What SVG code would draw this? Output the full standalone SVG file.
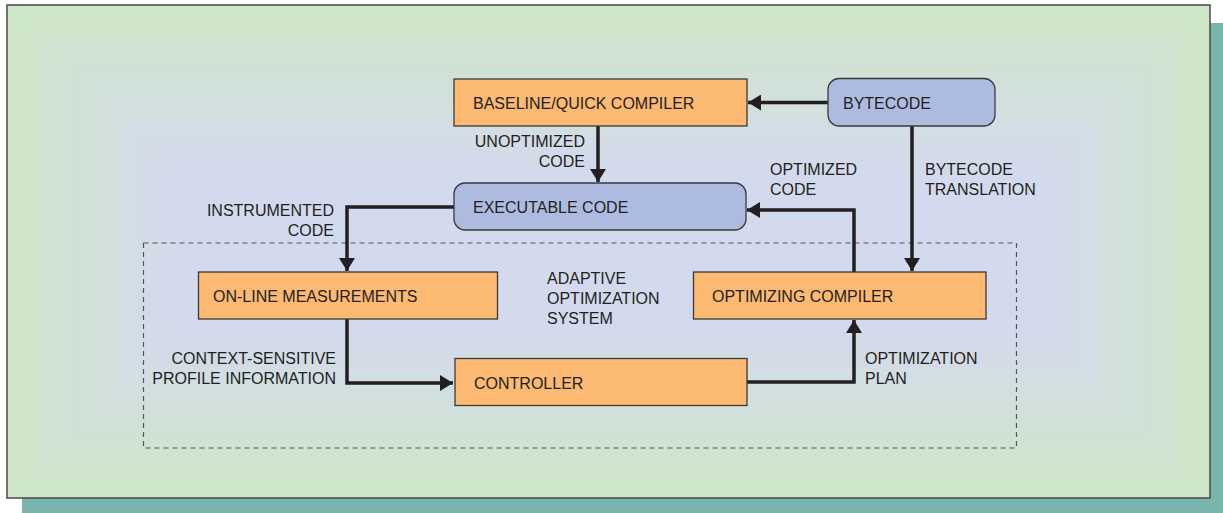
<svg xmlns="http://www.w3.org/2000/svg" width="1223" height="513" viewBox="0 0 1223 513">
  <defs>
    <style>
      text { font-family: "Liberation Sans", Arial, sans-serif; font-size: 16px; fill: #231f20; }
      .orange { fill: #fbb971; stroke: #3a3a3a; stroke-width: 1.3; }
      .blue { fill: #aebbe0; stroke: #3a3a3a; stroke-width: 1.3; }
      .conn { fill: none; stroke: #231f20; stroke-width: 3.5; stroke-linejoin: miter; }
      .r { text-anchor: end; }
    </style>
    <marker id="arrow" markerUnits="userSpaceOnUse" markerWidth="14" markerHeight="16" viewBox="0 0 14 16" refX="13" refY="8" orient="auto">
      <path d="M0,0 L13,8 L0,16 Z" fill="#231f20"/>
    </marker>
  </defs>

  <!-- shadow -->
  <rect x="22" y="23" width="1201" height="490" fill="#79b5aa"/>
  <!-- panel with stepped gradient -->
  <g id="panel">
    <rect x="7" y="5" width="1203" height="493" fill="rgb(206,230,200)"/>
    <rect x="23.4" y="21.4" width="1170.2" height="460.2" fill="rgb(207,229,204)"/>
    <rect x="39.8" y="37.8" width="1137.4" height="427.4" fill="rgb(207,228,208)"/>
    <rect x="56.2" y="54.2" width="1104.6" height="394.6" fill="rgb(208,226,211)"/>
    <rect x="72.6" y="70.6" width="1071.8" height="361.8" fill="rgb(208,225,215)"/>
    <rect x="89" y="87" width="1039" height="329" fill="rgb(209,224,219)"/>
    <rect x="105.4" y="103.4" width="1006.2" height="296.2" fill="rgb(210,223,223)"/>
    <rect x="121.8" y="119.8" width="973.4" height="263.4" fill="rgb(210,222,227)"/>
    <rect x="138.2" y="136.2" width="940.6" height="230.6" fill="rgb(211,220,230)"/>
    <rect x="154.6" y="152.6" width="907.8" height="197.8" fill="rgb(211,219,234)"/>
    <rect x="171" y="169" width="875" height="165" fill="rgb(212,218,238)"/>
    <rect x="7" y="5" width="1203" height="493" fill="none" stroke="#4a4a4a" stroke-width="1.5"/>
  </g>

  <!-- adaptive optimization system boundary -->
  <g id="aos">
    <rect x="143.5" y="243" width="873" height="205" fill="none" stroke="#555" stroke-width="1.2" stroke-dasharray="5 4"/>
    <text x="547" y="284">ADAPTIVE</text>
    <text x="547" y="304">OPTIMIZATION</text>
    <text x="547" y="324">SYSTEM</text>
  </g>

  <!-- connectors -->
  <g id="connectors">
    <path class="conn" d="M828,102.5 L748,102.5" marker-end="url(#arrow)"/>
    <path class="conn" d="M598,126 L598,182" marker-end="url(#arrow)"/>
    <path class="conn" d="M912,126 L912,271" marker-end="url(#arrow)"/>
    <path class="conn" d="M854,272 L854,210 L747,210" marker-end="url(#arrow)"/>
    <path class="conn" d="M454,207 L347,207 L347,271" marker-end="url(#arrow)"/>
    <path class="conn" d="M347,319 L347,383 L453,383" marker-end="url(#arrow)"/>
    <path class="conn" d="M747,382 L854,382 L854,320" marker-end="url(#arrow)"/>
  </g>

  <!-- connector labels -->
  <g id="labels">
    <text class="r" x="585" y="147">UNOPTIMIZED</text>
    <text class="r" x="585" y="167">CODE</text>
    <text x="770" y="175">OPTIMIZED</text>
    <text x="770" y="195">CODE</text>
    <text x="925" y="175">BYTECODE</text>
    <text x="925" y="195">TRANSLATION</text>
    <text class="r" x="334" y="216">INSTRUMENTED</text>
    <text class="r" x="334" y="236">CODE</text>
    <text class="r" x="336" y="364">CONTEXT-SENSITIVE</text>
    <text class="r" x="336" y="384">PROFILE INFORMATION</text>
    <text x="865" y="364">OPTIMIZATION</text>
    <text x="865" y="384">PLAN</text>
  </g>

  <g id="baseline">
    <rect class="orange" x="454" y="79" width="293" height="47"/>
    <text x="473" y="109">BASELINE/QUICK COMPILER</text>
  </g>
  <g id="bytecode">
    <rect class="blue" x="828" y="78.5" width="167" height="47.5" rx="11"/>
    <text x="843" y="109">BYTECODE</text>
  </g>
  <g id="executable">
    <rect class="blue" x="454" y="183" width="292" height="47" rx="11"/>
    <text x="473" y="213">EXECUTABLE CODE</text>
  </g>
  <g id="online">
    <rect class="orange" x="198.5" y="272" width="299" height="47"/>
    <text x="213" y="302">ON-LINE MEASUREMENTS</text>
  </g>
  <g id="optimizing">
    <rect class="orange" x="693.5" y="272" width="292.5" height="47"/>
    <text x="712" y="302">OPTIMIZING COMPILER</text>
  </g>
  <g id="controller">
    <rect class="orange" x="455" y="358.5" width="292" height="47"/>
    <text x="474" y="389">CONTROLLER</text>
  </g>
</svg>
